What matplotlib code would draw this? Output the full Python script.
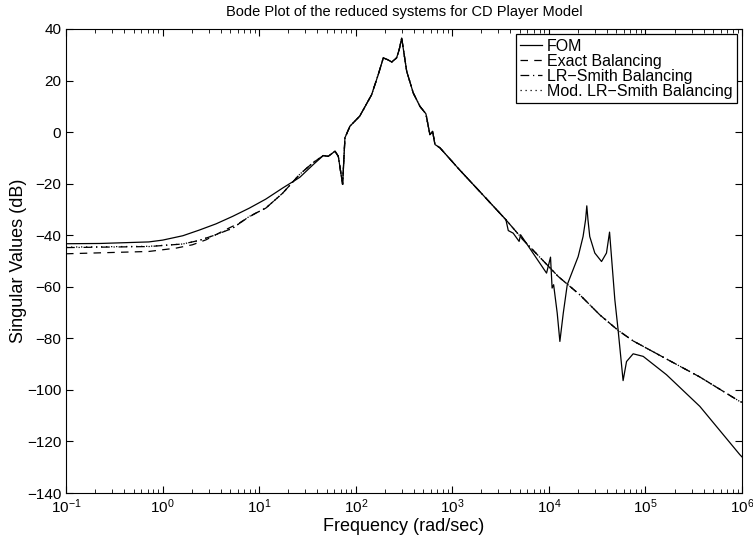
import numpy as np
import matplotlib.pyplot as plt

plt.rcParams['font.family'] = ['Liberation Sans', 'DejaVu Sans']
plt.rcParams['mathtext.fontset'] = 'custom'
plt.rcParams['mathtext.rm'] = 'Liberation Sans'
plt.rcParams['mathtext.it'] = 'Liberation Sans'

# valori: frequenza (rad/s) e dB
fom_w = [0.1, 0.224, 0.72, 1.0, 1.62, 2.4, 3.57, 5.3, 7.9, 11.7, 17.5, 24, 26.4, 36.3, 46.1,
         51.9, 61, 66, 73.1, 77.3, 87.1, 110, 146, 171, 193, 214, 236, 265, 282, 299, 337, 394,
         462, 533, 586, 625, 661, 745, 1180, 1930, 3590, 3800, 4270, 4920, 5090,
         9460, 10400, 10800, 11200, 12200, 13000, 14100, 15500, 20100, 22600, 24000,
         24700, 25400, 26500, 29900, 35100, 39500, 42500, 48200, 52100, 58700,
         63700, 74600, 94800, 165000, 366000, 948000, 1e6]
fom_db = [-43.3, -43.2, -42.6, -41.9, -40.2, -38.0, -35.6, -32.7, -29.5, -26.0, -21.7, -18.5, -17.5, -12.6, -9.1,
          -9.4, -7.4, -9.4, -20.3, -2.2, 2.3, 6.2, 14.5, 22.3, 28.8, 28.1, 27.2, 28.8, 32.0, 36.5, 23.6, 15.2,
          10.0, 7.1, -1.0, 0.3, -4.8, -6.1, -14.5, -23.1, -34.0, -38.2, -39.2, -42.4, -39.8,
          -54.7, -48.5, -60.5, -59.2, -70.2, -81.2, -70.2, -59.2, -48.3, -40.5, -34.0,
          -28.6, -34.0, -40.5, -46.9, -50.2, -46.9, -38.8, -65.0, -76.7, -96.4,
          -89.0, -86.0, -87.0, -94.1, -106.4, -125.1, -126.0]

# tratto comune dei modelli ridotti (coincide con FOM)
mid_w = [46.1, 51.9, 61, 66, 73.1, 77.3, 87.1, 110, 146, 171, 193, 214, 236, 265, 282, 299,
         337, 394, 462, 533, 586, 625, 661, 745, 1180, 1930, 3590]
mid_db = [-9.1, -9.4, -7.4, -9.4, -20.3, -2.2, 2.3, 6.2, 14.5, 22.3, 28.8, 28.1, 27.2, 28.8, 32.0, 36.5,
          23.6, 15.2, 10.0, 7.1, -1.0, 0.3, -4.8, -6.1, -14.5, -23.1, -34.0]
high_w = [5420, 12500, 20900, 33700, 52100, 74600, 165000, 366000, 948000, 1e6]
high_db = [-41.8, -56.0, -63.1, -70.9, -76.9, -81.0, -88.0, -95.0, -104.5, -104.8]

exact_w = [0.1, 0.72, 1.38, 2.04, 2.81, 4.1, 6.2, 9.25, 11.7, 17.5, 26.4, 36.3] + mid_w + high_w
exact_db = [-47.2, -46.3, -45.0, -43.7, -41.8, -38.6, -35.3, -31.4, -29.5, -23.7, -16.3, -11.8] + mid_db + high_db

lr_w = [0.1, 0.72, 1.62, 2.4, 3.57, 5.3, 7.9, 11.7, 17.5, 26.4, 36.3] + mid_w + high_w
lr_db = [-44.8, -44.4, -43.4, -42.0, -39.8, -37.3, -32.7, -29.5, -23.7, -16.3, -11.8] + mid_db + high_db

mod_w = lr_w
mod_db = [-44.6, -44.3, -43.4, -42.0, -39.8, -37.3, -32.7, -29.5, -23.7, -16.3, -11.8] + mid_db + high_db

fig = plt.figure(figsize=(7.53, 5.42), dpi=100)
ax = fig.add_axes([0.0877, 0.0904, 0.8977, 0.8561])

ax.semilogx(fom_w, fom_db, color='k', lw=0.9, label='FOM')
ax.semilogx(exact_w, exact_db, color='k', lw=0.9, ls=(0, (6, 5)), label='Exact Balancing')
ax.semilogx(lr_w, lr_db, color='k', lw=0.9, ls=(0, (7, 3, 1, 3)), label='LR\u2212Smith Balancing')
ax.semilogx(mod_w, mod_db, color='k', lw=0.9, ls=(0, (1, 3)), label='Mod. LR\u2212Smith Balancing')

ax.set_xlim(0.1, 1e6)
ax.set_ylim(-140, 40)
ax.set_yticks(np.arange(-140, 41, 20))
ax.tick_params(which='both', direction='in', top=True, right=True, labelsize=11)
ax.tick_params(which='major', length=5)
ax.tick_params(which='minor', length=3)
ax.set_xlabel('Frequency (rad/sec)', fontsize=13, labelpad=1)
ax.set_ylabel('Singular Values (dB)', fontsize=13, labelpad=0)
ax.set_title('Bode Plot of the reduced systems for CD Player Model', fontsize=10.5, pad=9)

leg = ax.legend(loc='upper right', fontsize=11.5, handlelength=1.35, borderaxespad=0.3,
                fancybox=False, framealpha=1, edgecolor='k', labelspacing=0.0,
                borderpad=0.3, handletextpad=0.3)
leg.get_frame().set_linewidth(0.9)

fig.savefig('out.png', dpi=100)
plt.close(fig)
